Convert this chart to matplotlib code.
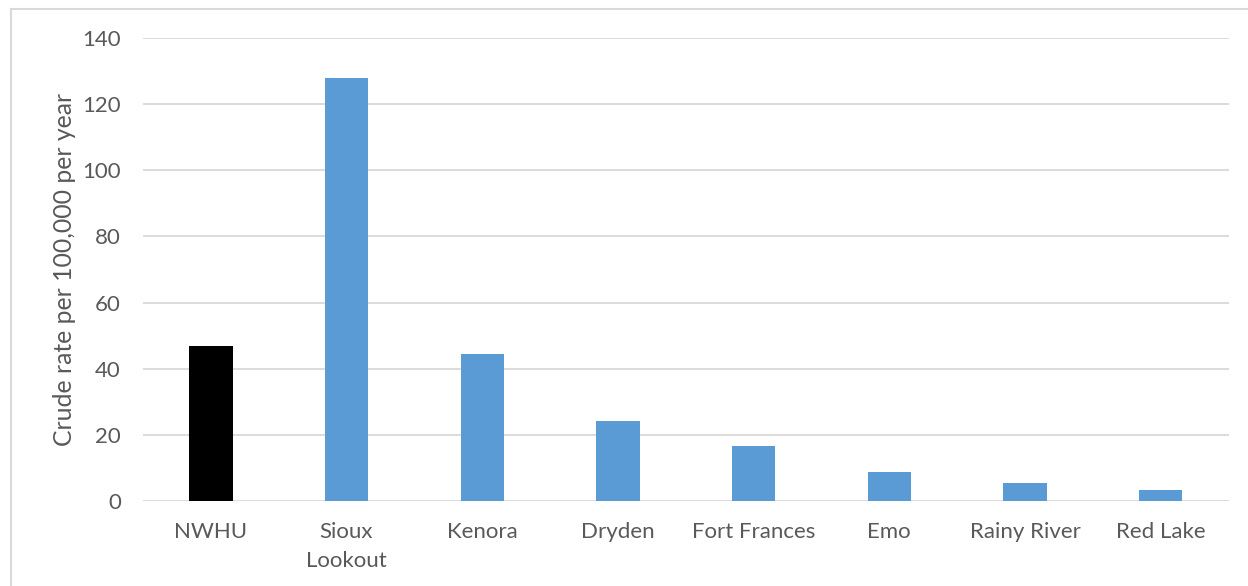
import matplotlib
matplotlib.use("Agg")
import matplotlib.pyplot as plt
from matplotlib.patches import Rectangle

# valores
areas = ["NWHU", "Sioux\nLookout", "Kenora", "Dryden", "Fort Frances",
         "Emo", "Rainy River", "Red Lake"]
taxas = [47.0, 127.9, 44.4, 24.3, 16.6, 8.8, 5.4, 3.3]
cores = ["#000000"] + ["#5B9BD5"] * 7
yticks = [0, 20, 40, 60, 80, 100, 120, 140]

plt.rcParams['font.family'] = ['Lato', 'DejaVu Sans']
texto = "#595959"

fig = plt.figure(figsize=(12.48, 5.86), dpi=100)
ax = fig.add_axes([143 / 1248, 1 - 501 / 586, 1085.5 / 1248, 463 / 586])

x = range(len(areas))
ax.bar(x, taxas, width=0.32, color=cores, zorder=3)

ax.set_xlim(-0.5, len(areas) - 0.5)
ax.set_ylim(0, 140)
ax.set_yticks(yticks)
ax.set_xticks(list(x))
ax.set_xticklabels(areas, linespacing=1.55)

ax.grid(axis='y', color='#D9D9D9', linewidth=1.3, zorder=0)
for s in ax.spines.values():
    s.set_visible(False)
ax.tick_params(axis='both', length=0, labelsize=16, labelcolor=texto)
ax.tick_params(axis='y', pad=16)
ax.tick_params(axis='x', pad=15)

ax.set_ylabel("Crude rate per 100,000 per year", fontsize=17.8, color=texto)
ax.yaxis.set_label_coords((76 - 143) / 1085.5, 0.5)

# moldura do gráfico
fig.patches.append(Rectangle((11 / 1248, -0.1), 1.2, 1 - 9 / 586 + 0.1,
                             transform=fig.transFigure, fill=False,
                             edgecolor='#D9D9D9', linewidth=1.5))

fig.savefig("out.png", dpi=100)
